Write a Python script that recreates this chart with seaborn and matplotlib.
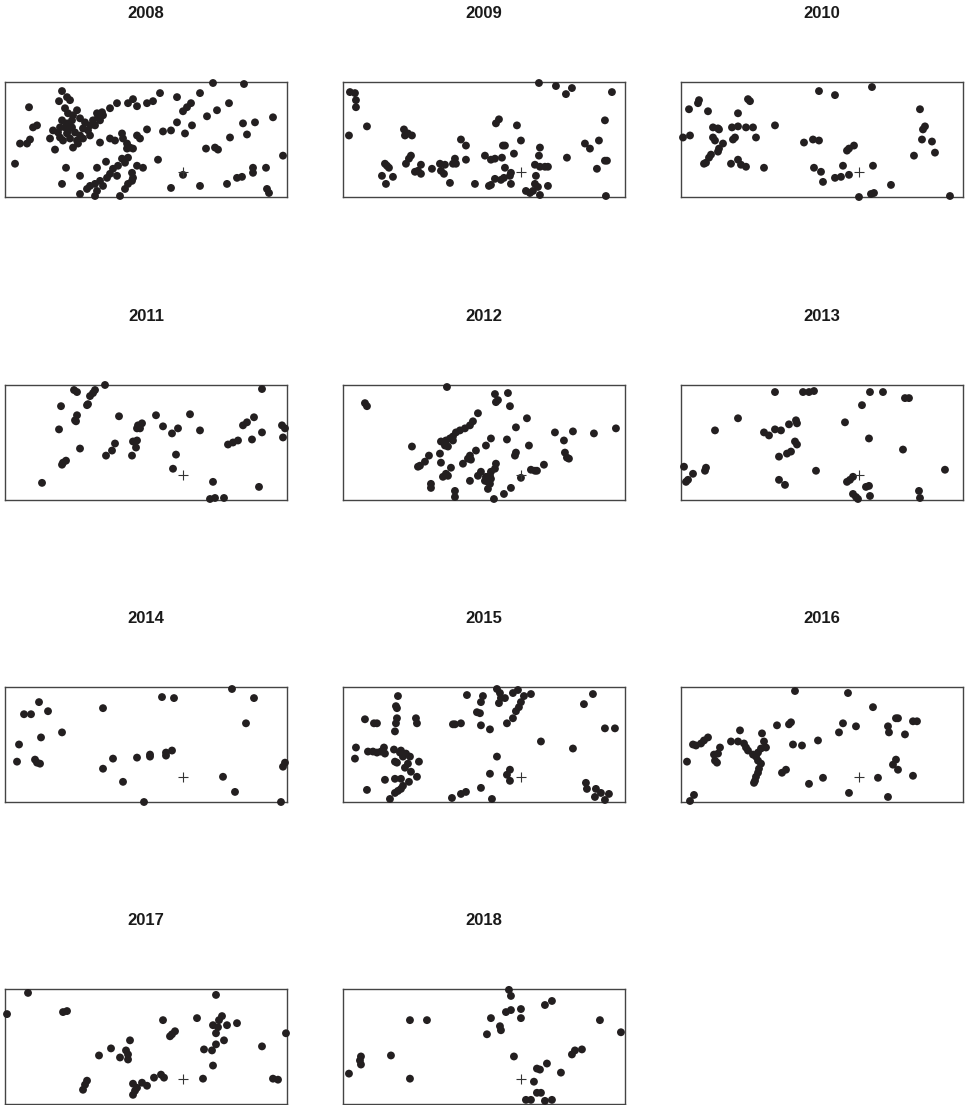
import pandas as pd
import seaborn as sns
import matplotlib.pyplot as plt

# point positions per year (field units, box is 282 x 114)
pts_2008 = [(208,113),(239,112),(57,105),(54,95),(62,99),(65,96),(24,89),(155,103),(172,99),(195,103),
            (128,97),(123,93),(132,90),(142,93),(148,95),(112,93),(105,88),(97,84),(92,83),(186,93),
            (182,89),(178,85),(224,93),(212,86),(202,80),(72,86),(68,81),(60,88),(63,83),(268,79),
            (238,73),(250,74),(172,74),(187,71),(158,65),(166,66),(180,63),(142,67),(132,61),(135,58),
            (32,71),(28,69),(48,66),(57,76),(62,73),(67,69),(75,78),(80,74),(78,68),(62,63),
            (55,59),(58,56),(65,58),(45,58),(72,56),(75,61),(85,71),(88,76),(93,79),(53,64),
            (63,66),(70,64),(60,69),(67,76),(55,69),(83,66),(90,71),(95,76),(98,81),(15,53),
            (22,53),(25,57),(50,47),(68,49),(73,53),(78,58),(85,61),(95,54),(105,58),(110,56),
            (117,63),(118,58),(122,53),(122,48),(125,49),(128,48),(123,39),(242,62),(225,59),(201,48),
            (210,49),(213,47),(153,37),(278,41),(10,33),(61,29),(75,21),(92,29),(101,35),(108,28),
            (113,31),(117,38),(120,34),(105,23),(102,19),(95,16),(90,13),(85,11),(82,8),(92,6),
            (98,11),(112,21),(127,24),(128,19),(127,16),(123,13),(120,8),(115,1),(90,1),(75,3),
            (57,13),(132,31),(138,29),(178,22),(166,9),(195,11),(222,13),(232,19),(237,20),(248,29),
            (248,24),(261,29),(262,8),(264,4)]
pts_2009 = [(7,104),(12,103),(13,96),(13,89),(24,70),(6,61),(196,113),(213,110),(229,108),(223,102),
            (269,104),(262,76),(156,77),(153,73),(174,71),(61,67),(65,63),(69,61),(62,61),(118,57),
            (123,51),(178,56),(160,51),(162,51),(197,49),(242,53),(247,48),(256,56),(68,41),(66,38),
            (63,33),(42,33),(44,31),(46,29),(39,21),(50,20),(43,13),(78,32),(78,23),(72,25),
            (75,26),(89,28),(97,33),(102,32),(98,26),(101,23),(112,38),(110,33),(113,33),(123,37),
            (142,41),(148,37),(152,38),(159,39),(171,43),(196,41),(224,39),(262,36),(264,36),(254,28),
            (162,29),(168,24),(167,21),(192,32),(197,30),(202,30),(205,30),(193,21),(152,18),(158,17),
            (161,19),(146,11),(148,12),(132,13),(107,14),(168,13),(192,13),(195,10),(205,11),(183,6),
            (187,4),(190,6),(197,2),(263,1)]
pts_2010 = [(138,105),(154,101),(191,109),(18,96),(17,93),(8,87),(27,85),(67,97),(69,95),(57,83),
            (239,87),(32,69),(37,68),(38,67),(51,69),(57,70),(65,69),(72,69),(94,71),(2,59),
            (9,61),(32,59),(34,56),(52,57),(54,59),(75,59),(42,53),(38,48),(37,45),(30,42),
            (28,39),(25,34),(23,33),(50,33),(57,37),(60,32),(65,30),(83,29),(123,54),(132,57),
            (138,56),(244,70),(242,67),(241,57),(251,55),(254,44),(233,41),(173,51),(168,48),(166,46),
            (162,31),(192,31),(133,29),(140,25),(142,15),(154,19),(160,20),(168,22),(210,12),(178,0),
            (190,3),(193,4),(269,1)]
pts_2011 = [(69,109),(72,107),(90,109),(88,106),(85,103),(100,114),(83,95),(82,94),(56,93),(257,110),
            (72,84),(70,79),(71,78),(54,70),(114,83),(151,84),(185,85),(249,82),(242,77),(238,74),
            (277,74),(280,71),(137,76),(133,74),(132,71),(135,71),(158,73),(173,71),(167,66),(195,69),
            (257,67),(247,60),(278,62),(233,59),(228,57),(223,55),(110,56),(107,49),(101,44),(128,58),
            (132,59),(131,52),(127,44),(75,51),(61,39),(58,37),(57,35),(171,45),(168,31),(37,17),
            (208,18),(254,13),(205,1),(210,2),(219,2)]
pts_2012 = [(104,112),(22,96),(24,93),(152,105),(165,106),(155,99),(153,97),(167,93),(135,86),(130,78),
            (127,74),(122,71),(117,69),(113,67),(110,63),(107,61),(103,59),(98,58),(102,54),(97,46),
            (110,59),(105,53),(184,81),(173,72),(212,67),(230,68),(251,66),(273,71),(221,59),(164,60),
            (148,61),(143,54),(186,54),(133,49),(127,44),(125,41),(128,40),(173,47),(172,44),(222,47),
            (224,42),(226,41),(69,53),(86,44),(82,38),(77,34),(75,33),(98,37),(120,36),(108,32),
            (103,26),(100,23),(105,24),(153,36),(152,31),(148,28),(147,24),(143,23),(142,19),(145,18),
            (147,16),(148,21),(138,28),(135,24),(145,11),(127,19),(201,35),(188,30),(192,29),(194,29),
            (178,22),(88,16),(88,12),(112,9),(112,3),(168,12),(161,6),(151,1)]
pts_2013 = [(94,107),(122,107),(128,107),(133,108),(189,107),(202,107),(224,101),(228,101),(181,94),(57,81),
            (34,69),(164,77),(115,79),(116,76),(108,75),(94,70),(100,69),(83,67),(88,64),(188,61),
            (114,58),(116,55),(110,48),(106,46),(98,43),(222,50),(3,33),(12,26),(7,20),(5,18),
            (25,32),(24,29),(135,29),(264,30),(98,20),(104,15),(172,23),(169,20),(166,18),(188,14),
            (185,13),(172,6),(175,3),(177,1),(189,4),(238,9),(239,2)]
pts_2014 = [(227,112),(249,103),(157,104),(169,103),(98,93),(34,99),(43,90),(19,87),(26,87),(241,78),
            (57,69),(36,64),(14,57),(12,40),(30,42),(32,39),(35,38),(108,43),(132,44),(145,47),
            (145,45),(161,49),(161,46),(167,51),(98,33),(118,20),(280,39),(278,35),(218,25),(230,10),
            (139,0),(276,0)]
pts_2015 = [(55,105),(53,95),(54,93),(54,83),(53,78),(52,70),(22,82),(31,78),(34,78),(73,83),
            (74,78),(13,54),(12,43),(25,50),(30,50),(34,49),(38,50),(41,54),(42,48),(51,52),
            (58,51),(63,48),(67,45),(57,49),(60,45),(52,40),(54,39),(65,38),(62,34),(76,40),
            (68,30),(74,25),(42,22),(52,23),(58,23),(66,20),(60,16),(58,13),(55,11),(52,9),
            (47,3),(24,12),(124,106),(140,105),(138,99),(154,112),(157,108),(158,103),(156,98),(162,103),
            (170,108),(175,111),(181,105),(188,107),(178,99),(176,94),(173,90),(134,89),(137,88),(170,83),
            (164,78),(110,77),(112,77),(118,78),(138,76),(147,72),(250,107),(241,97),(262,73),(272,73),
            (198,60),(230,53),(154,45),(147,28),(167,32),(164,27),(167,21),(138,14),(149,3),(123,10),
            (118,8),(109,4),(243,19),(244,13),(253,13),(258,9),(266,8),(252,5),(262,2)]
pts_2016 = [(114,110),(167,108),(192,94),(215,83),(217,83),(232,80),(236,80),(207,75),(208,69),(224,67),
            (175,75),(162,78),(158,69),(110,79),(108,77),(96,76),(59,71),(81,68),(27,64),(23,61),
            (20,58),(15,56),(12,57),(50,60),(57,60),(63,58),(65,54),(67,51),(83,60),(85,54),
            (80,53),(77,49),(75,45),(72,47),(77,41),(80,38),(78,33),(77,29),(75,25),(74,21),
            (73,19),(39,54),(37,48),(33,47),(34,41),(36,39),(6,40),(112,57),(121,56),(137,61),
            (105,32),(101,29),(142,24),(128,18),(197,24),(215,42),(212,37),(217,32),(232,26),(168,9),
            (207,5),(13,7),(9,1)]
pts_2017 = [(23,110),(2,89),(58,91),(62,92),(211,108),(158,83),(192,85),(217,87),(214,83),(208,78),
            (222,78),(232,80),(213,76),(211,70),(281,70),(170,72),(167,69),(165,67),(125,63),(219,63),
            (211,59),(199,54),(207,53),(257,57),(106,55),(121,53),(123,49),(123,44),(115,46),(94,48),
            (208,38),(149,26),(156,29),(159,26),(198,25),(268,25),(273,24),(82,23),(80,19),(78,14),
            (128,20),(137,21),(142,18),(132,16),(130,13),(128,9)]
pts_2018 = [(166,113),(168,107),(163,91),(168,93),(178,94),(202,98),(209,102),(148,85),(178,85),(157,77),
            (158,73),(144,69),(257,83),(278,71),(67,83),(84,83),(48,48),(18,47),(17,43),(18,39),
            (6,30),(67,25),(171,47),(239,54),(232,53),(229,49),(204,40),(197,34),(194,35),(218,31),
            (191,22),(194,11),(198,11),(183,4),(188,4),(202,3),(209,4)]

years = [2008, 2009, 2010, 2011, 2012, 2013, 2014, 2015, 2016, 2017, 2018]
points = [pts_2008, pts_2009, pts_2010, pts_2011, pts_2012, pts_2013,
          pts_2014, pts_2015, pts_2016, pts_2017, pts_2018]
cross_x, cross_y = 178, 25
box_w, box_h = 282, 114

sns.set_style("white")
plt.rcParams['font.family'] = ['Liberation Sans', 'DejaVu Sans']

fig = plt.figure(figsize=(9.65, 11.05), dpi=100)

lefts = [0.0052, 0.3554, 0.7057]
bottoms = [0.8217, 0.5475, 0.2742, 0.001]

for i, (year, pts) in enumerate(zip(years, points)):
    r, c = divmod(i, 3)
    ax = fig.add_axes([lefts[c], bottoms[r], 0.2922, 0.1041])
    df = pd.DataFrame(pts, columns=['x', 'y'])
    sns.scatterplot(data=df, x='x', y='y', ax=ax, color='#231f20', s=32,
                    edgecolor='none', clip_on=False, zorder=3)
    # reference mark
    ax.scatter([cross_x], [cross_y], marker='+', s=60, color='#333333',
               linewidths=0.8, zorder=4)
    ax.set_xlim(0, box_w)
    ax.set_ylim(0, box_h)
    ax.set_xticks([])
    ax.set_yticks([])
    ax.set_xlabel('')
    ax.set_ylabel('')
    for sp in ax.spines.values():
        sp.set_color('#444444')
        sp.set_linewidth(1.0)
    ax.set_title(str(year), fontsize=12, fontweight='bold', pad=46, color='#1a1a1a')

fig.savefig('out.png', dpi=100)
